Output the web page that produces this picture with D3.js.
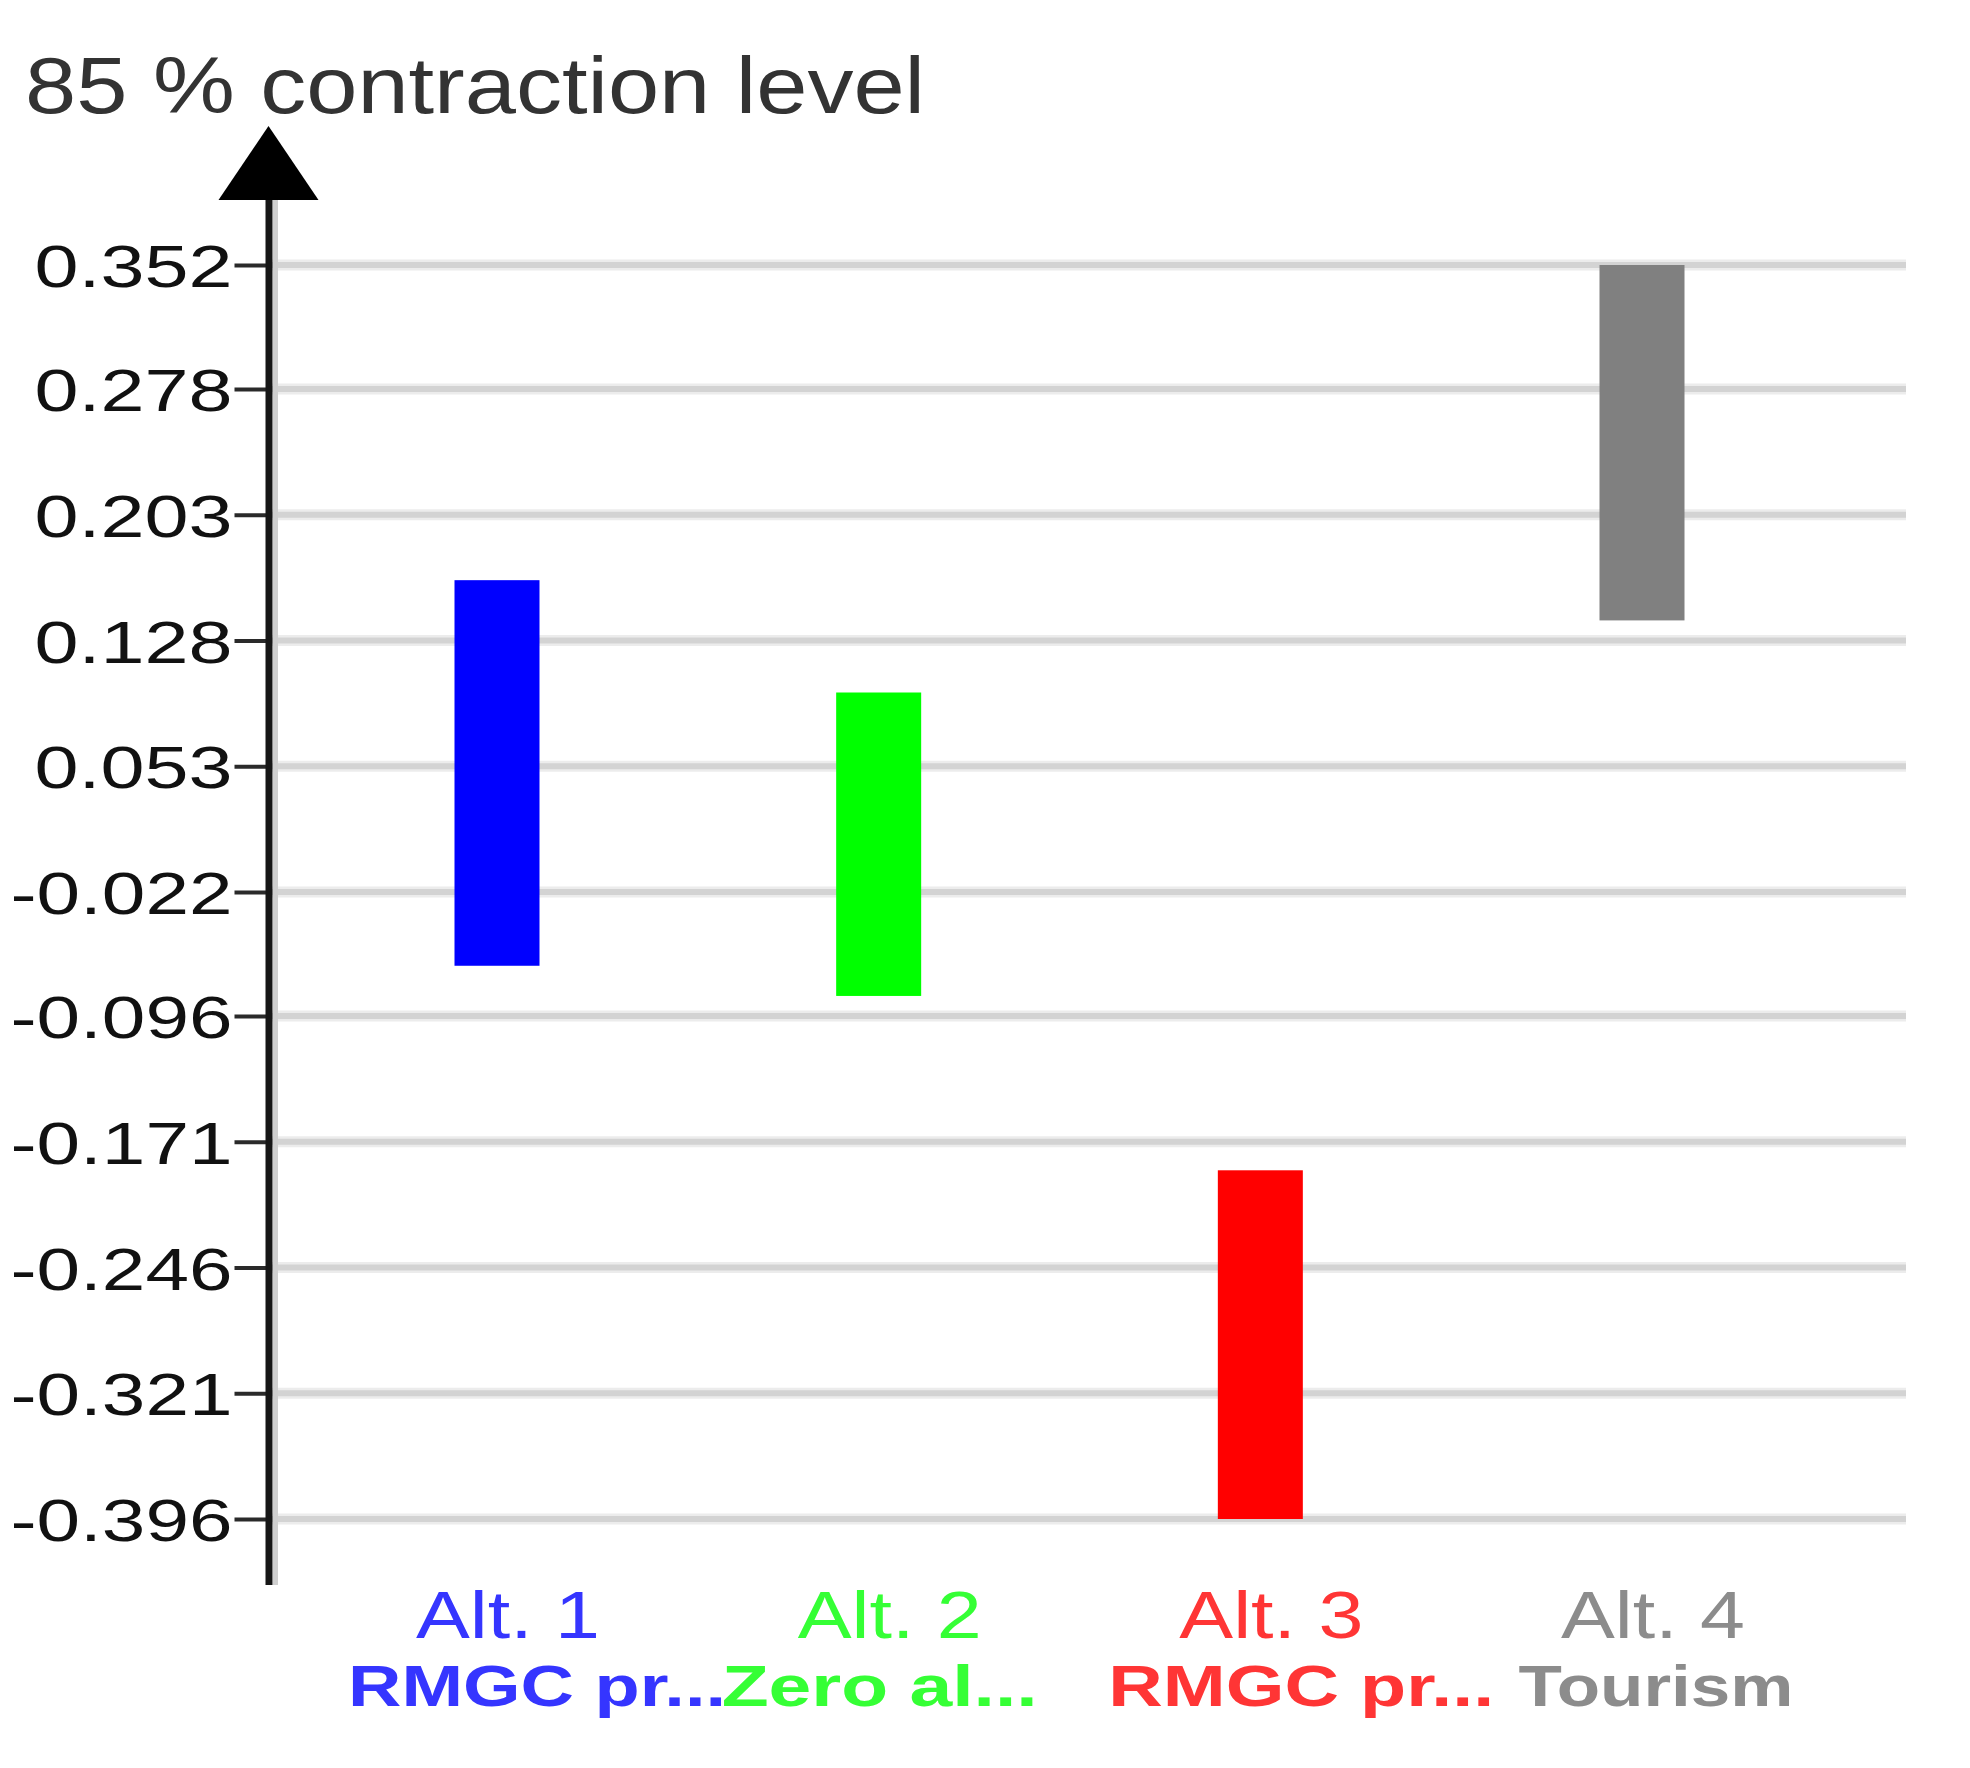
<!DOCTYPE html>
<html>
<head>
<meta charset="utf-8">
<script src="https://cdn.jsdelivr.net/npm/d3@7"></script>
<style>
  html, body { margin: 0; padding: 0; background: #ffffff; }
  svg { display: block; }
</style>
</head>
<body>
<script>
// ---- data ----
const categories = ["Alt. 1", "Alt. 2", "Alt. 3", "Alt. 4"];
const subLabels = ["RMGC pr...", "Zero al...", "RMGC pr...", "Tourism"];
const lowValues = [-0.066, -0.084, -0.396, 0.140];
const highValues = [0.164, 0.097, -0.188, 0.352];
const barColors = ["#0000ff", "#00ff00", "#ff0000", "#808080"];
const labelColors = ["#3535ff", "#35ff35", "#ff3535", "#8c8c8c"];
const tickLabels = ["0.352", "0.278", "0.203", "0.128", "0.053", "-0.022", "-0.096", "-0.171", "-0.246", "-0.321", "-0.396"];
const titleText = "85 % contraction level";

// ---- layout ----
const W = 1970, H = 1768;
const axisX = 268.5;
const gridRight = 1906;
const fontFam = "'Liberation Sans', Arial, sans-serif";

const svg = d3.select("body").append("svg").attr("width", W).attr("height", H);

const y = d3.scaleLinear().domain([-0.396, 0.352]).range([1519, 265]);
const x = d3.scalePoint().domain(categories).range([497, 1642]);
const barW = 85;

// gridlines (halo + core)
const tickVals = tickLabels.map(Number);
const grid = svg.append("g");
grid.selectAll("line.halo").data(tickVals).join("line")
  .attr("class", "halo")
  .attr("x1", axisX).attr("x2", gridRight)
  .attr("y1", d => y(d)).attr("y2", d => y(d))
  .attr("stroke", "#ececec").attr("stroke-width", 11);
grid.selectAll("line.core").data(tickVals).join("line")
  .attr("class", "core")
  .attr("x1", axisX).attr("x2", gridRight)
  .attr("y1", d => y(d)).attr("y2", d => y(d))
  .attr("stroke", "#d3d3d3").attr("stroke-width", 6);

// bars
const rows = categories.map((c, i) => ({ c, lo: lowValues[i], hi: highValues[i], col: barColors[i] }));
svg.append("g").selectAll("rect").data(rows).join("rect")
  .attr("x", d => x(d.c) - barW / 2)
  .attr("width", barW)
  .attr("y", d => y(d.hi))
  .attr("height", d => y(d.lo) - y(d.hi))
  .attr("fill", d => d.col);

// y axis with d3 axis
const yAxis = d3.axisLeft(y)
  .tickValues(tickVals)
  .tickFormat((d, i) => tickLabels[i])
  .tickSize(34)
  .tickPadding(2);
const ag = svg.append("g").attr("transform", `translate(${axisX},0)`).call(yAxis);
ag.select(".domain").remove();
ag.selectAll(".tick line").attr("stroke", "#2a2a2a").attr("stroke-width", 4);
ag.selectAll(".tick text")
  .attr("fill", "#111")
  .attr("font-family", fontFam)
  .attr("font-size", 60)
  .attr("dy", "0.36em")
  .attr("x", -36)
  .attr("textLength", (d, i) => tickLabels[i].startsWith("-") ? 222 : 198)
  .attr("lengthAdjust", "spacingAndGlyphs");

// axis line with light shadow
svg.append("line").attr("x1", axisX + 7).attr("x2", axisX + 7)
  .attr("y1", 200).attr("y2", 1585).attr("stroke", "#cfcfcf").attr("stroke-width", 5);
svg.append("line").attr("x1", axisX + 0.5).attr("x2", axisX + 0.5)
  .attr("y1", 195).attr("y2", 1585).attr("stroke", "#161616").attr("stroke-width", 7);

// arrow head
svg.append("path")
  .attr("d", d3.line()([[axisX, 126], [axisX + 50, 200], [axisX - 50, 200]]) + "Z")
  .attr("fill", "#000");

// title
svg.append("text")
  .attr("x", 25).attr("y", 113)
  .attr("font-family", fontFam)
  .attr("font-size", 80)
  .attr("fill", "#333")
  .attr("textLength", 900)
  .attr("lengthAdjust", "spacingAndGlyphs")
  .text(titleText);

// category labels
const catG = svg.append("g");
catG.selectAll("text").data(categories).join("text")
  .attr("x", d => x(d) - 81)
  .attr("y", 1638)
  .attr("font-family", fontFam)
  .attr("font-size", 66)
  .attr("fill", (d, i) => labelColors[i])
  .attr("textLength", 184)
  .attr("lengthAdjust", "spacingAndGlyphs")
  .text(d => d);

// sub labels (centre shift tuned per label width in original rendering)
const subShift = [40, 1, 41, 14];
const subWidth = [378, 316, 386, 275];
catG.selectAll("text.sub").data(subLabels).join("text")
  .attr("class", "sub")
  .attr("x", (d, i) => x(categories[i]) + subShift[i])
  .attr("y", 1706)
  .attr("text-anchor", "middle")
  .attr("font-family", fontFam)
  .attr("font-weight", "bold")
  .attr("font-size", 58)
  .attr("fill", (d, i) => labelColors[i])
  .attr("textLength", (d, i) => subWidth[i])
  .attr("lengthAdjust", "spacingAndGlyphs")
  .text(d => d);
</script>
</body>
</html>
